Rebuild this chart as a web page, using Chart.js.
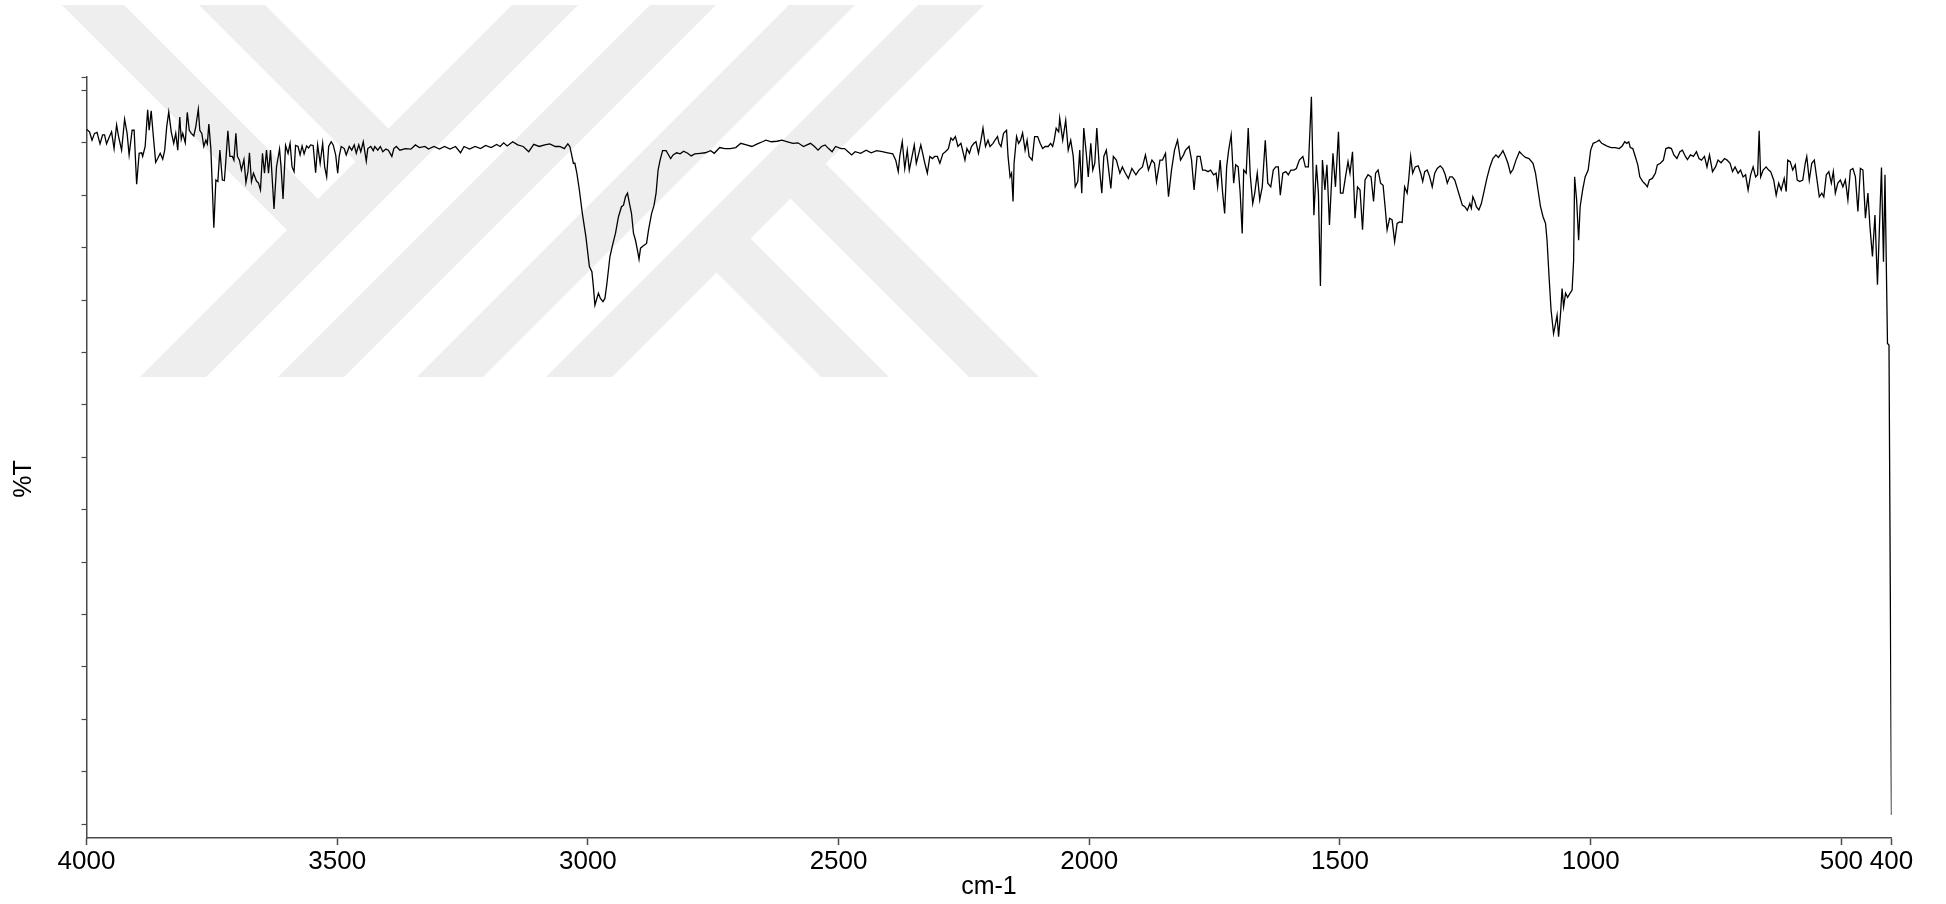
<!DOCTYPE html>
<html>
<head>
<meta charset="utf-8">
<title>IR spectrum</title>
<script src="https://cdn.jsdelivr.net/npm/chart.js@4.4.1/dist/chart.umd.min.js"></script>
<style>
  html, body { margin: 0; padding: 0; background: #ffffff; }
  canvas { display: block; }
</style>
</head>
<body>
<canvas id="ir" width="1946" height="904"></canvas>
<script>
// FT-IR spectrum: wavenumber (cm-1) and transmittance (%T, arbitrary scale)
const wavenumber = [
  4000,3994,3989,3984,3979,3973,3968,3964,3960,3955,3950,3945,3940,3936,3930,3924,3919,3915,3909,3905,
  3900,3895,3890,3888,3883,3878,3875,3871,3866,3862,3858,3853,3848,3844,3840,3836,3831,3826,3822,3818,
  3814,3811,3808,3803,3799,3795,3791,3786,3782,3777,3774,3770,3766,3762,3759,3756,3752,3746,3742,3738,
  3734,3729,3725,3722,3718,3714,3709,3706,3702,3699,3695,3691,3686,3682,3678,3675,3671,3667,3661,3657,
  3653,3649,3645,3641,3637,3633,3626,3621,3615,3612,3608,3603,3598,3594,3590,3586,3583,3578,3574,3570,
  3566,3561,3557,3553,3548,3543,3539,3534,3529,3525,3521,3517,3512,3508,3503,3499,3496,3492,3486,3482,
  3476,3471,3466,3462,3457,3453,3448,3442,3439,3433,3428,3425,3419,3414,3409,3403,3398,3391,3387,3382,
  3375,3364,3353,3344,3336,3325,3318,3307,3296,3286,3275,3264,3254,3247,3236,3225,3214,3204,3193,3182,
  3175,3168,3161,3150,3140,3129,3118,3108,3097,3086,3076,3065,3056,
  3047,3040,3036,3033,3029,3026,3022,3017,3011,3004,2997,2992,2989,2986,2983,2979,2975,2970,2966,2962,
  2956,2950,2945,2939,2933,2929,2925,2921,2917,2913,2909,2905,2900,2898,2895,2890,2883,2879,2873,2868,
  2864,2860,2856,2851,2844,2841,2835,2830,2823,2816,2809,2801,2794,2787,2776,2766,2755,2748,2737,2727,
  2716,2705,2695,2684,2673,2662,2652,2645,2634,2623,2613,2602,2591,2581,2570,2563,2556,2548,2541,2534,
  2527,2520,2513,2506,2495,2488,2481,2474,2467,2456,2445,2435,2424,2413,2402,2392,2386,2381,2378,2373,
  2368,2363,2359,2355,2349,2345,2340,2336,2331,2328,2323,2318,2313,2308,2303,2298,2292,2287,2281,2276,
  2272,2267,2262,2256,2252,2248,2244,2239,2235,2230,2226,2221,2216,2212,2207,2202,2198,2192,2188,2183,
  2180,2176,2171,2165,2162,2158,2155,2152,2150,2145,2141,2137,2133,2128,2124,2120,2114,2109,2103,2098,
  2093,2088,2082,2077,2073,2070,2066,2061,
  2059,2053,2047,2042,2037,2032,2028,2023,2019,2015,2011,2006,2002,1997,1993,1989,1985,1980,1975,1971,
  1966,1962,1957,1952,1946,1939,1934,1928,1922,1915,1907,1901,1894,1888,1882,1875,1870,1866,1859,1854,
  1848,1842,1836,1830,1824,1818,1812,1808,1801,1796,1791,1785,1779,1774,1769,1763,1758,1752,1747,1744,
  1739,1734,1730,1726,1722,1717,1712,1708,1703,1699,1695,1692,1687,1683,1679,1674,1670,1665,1660,1655,
  1649,1644,1638,1633,1628,1623,1619,1614,1608,1603,1598,1592,1587,1581,1574,1569,1563,
  1557,1552,1547,1543,1539,1535,1530,1526,1521,1514,1509,1506,1503,1499,1494,1489,1484,1480,1475,1470,
  1465,1460,1455,1450,1444,1438,1433,1429,1424,1419,1414,1410,1406,1401,1396,1391,1386,1381,1376,1371,
  1366,1363,1359,1355,1350,1344,1339,1335,1331,1326,1321,1316,1311,1306,1300,1295,1290,1286,1281,1276,
  1271,1266,1261,1256,1251,1246,1241,1238,1235,1231,1228,1223,1218,1212,1207,1201,1195,1189,1184,1179,
  1175,1170,1165,1160,1155,1149,1142,1136,1130,1123,1115,1110,1105,1100,1095,1090,1087,1083,1079,1074,
  1070,1067,1064,1060,1057,1054,1050,1046,1041,1037,1034,1032,1028,1024,1021,1016,1011,1005,1000,995,
  988,983,978,972,966,959,951,943,937,932,928,924,921,916,911,906,902,896,891,887,
  883,877,871,867,861,855,850,844,839,834,828,822,817,811,807,801,795,789,784,779,
  773,768,763,757,751,746,740,733,728,722,717,712,706,701,696,691,686,681,676,671,
  667,664,661,656,650,645,641,635,630,625,620,614,610,607,602,597,592,588,583,577,
  572,569,564,559,554,549,544,539,535,530,525,520,516,512,507,502,497,492,487,482,
  477,472,467,462,457,452,447,443,438,433,428,424,420,416,413,408,405,400
];

const transmittance = [
  132.6,132.1,130.5,131.8,132.0,129.8,131.5,131.5,129.8,131.0,132.1,128.9,133.4,131.2,128.6,134.5,131.8,127.7,132.4,132.4,
  122.1,128.0,128.1,127.4,129.3,136.3,132.4,136.1,130.5,126.3,127.0,128.0,126.9,128.6,133.1,135.9,132.1,129.9,131.8,128.6,
  134.9,130.7,131.8,130.0,135.8,132.4,131.8,131.3,133.1,136.4,132.4,131.8,129.3,130.5,129.8,133.6,128.9,113.8,122.9,122.6,
  128.6,122.9,122.8,126.7,132.3,127.4,127.4,126.7,131.8,127.4,126.7,124.8,126.8,122.4,124.5,128.1,122.6,124.2,122.7,122.3,
  121.0,128.0,124.2,128.6,124.2,128.6,117.4,125.4,128.8,125.4,119.3,129.5,128.0,129.9,125.4,124.5,129.5,129.3,127.7,129.4,
  127.9,129.4,129.0,129.6,129.5,124.3,129.6,126.1,129.9,125.4,123.5,129.3,130.2,129.6,127.7,124.2,127.4,129.3,128.9,127.7,
  129.3,128.6,129.6,128.0,129.6,128.3,130.2,126.5,128.9,129.3,128.5,129.3,128.6,129.3,128.3,128.8,128.6,127.4,128.9,129.3,
  128.6,128.9,128.8,129.6,129.1,129.3,128.8,129.3,128.8,129.3,128.8,129.3,128.1,129.3,128.8,129.3,128.9,129.5,129.1,129.7,
  129.3,130.0,129.4,130.2,129.6,129.3,128.3,129.7,129.3,129.6,129.8,129.3,129.3,
  128.9,129.8,129.3,128.0,126.1,126.1,124.2,121.0,116.5,112.1,106.4,105.4,102.5,99.0,100.0,101.3,100.3,99.7,100.3,103.2,
  108.3,110.8,112.7,115.9,117.8,118.1,119.7,120.4,118.4,116.5,112.7,111.4,108.9,107.8,109.9,110.3,110.8,113.4,116.5,118.1,
  120.4,124.8,126.7,128.5,128.5,128.0,127.0,127.7,128.1,127.9,128.4,128.0,127.5,127.9,128.0,128.1,128.5,128.0,129.1,128.9,
  128.9,129.1,129.9,129.6,129.3,129.8,130.2,130.5,130.2,130.3,130.5,130.2,129.9,130.0,129.3,129.6,129.9,129.3,128.6,129.3,
  129.6,128.9,128.3,129.3,128.9,128.9,128.3,127.7,128.3,128.0,128.6,128.1,128.5,128.3,128.1,127.9,126.7,124.5,127.4,130.2,
  125.1,128.6,124.8,126.7,129.6,126.1,128.0,129.6,127.4,126.1,124.2,127.4,127.0,127.4,127.4,126.1,127.9,128.3,128.9,130.9,
  130.5,131.2,129.3,129.9,128.3,126.7,128.9,128.0,129.3,129.9,130.2,128.0,130.5,132.8,129.3,130.5,129.3,129.9,130.5,131.2,
  129.9,129.3,131.8,132.4,127.4,123.5,124.2,118.8,126.1,131.2,129.9,130.5,131.9,128.6,130.5,127.4,126.7,131.2,131.2,129.9,
  128.9,129.3,129.3,129.9,129.3,130.5,132.8,132.1,
  134.7,130.5,134.3,128.6,130.5,127.4,121.6,122.6,128.6,120.4,132.8,128.0,123.5,129.9,124.8,126.1,132.8,125.4,120.4,127.4,
  128.6,125.4,121.3,127.4,126.7,124.2,125.4,124.2,123.2,125.1,123.9,124.8,125.4,127.7,124.8,126.7,126.1,122.6,126.7,126.7,
  128.0,119.7,124.8,128.6,130.5,126.7,127.7,128.6,129.3,126.7,121.0,127.4,127.4,124.8,124.8,124.5,124.8,123.9,124.2,121.6,
  126.7,120.4,116.5,125.4,128.6,131.5,122.3,125.8,125.4,120.4,112.7,124.8,124.2,132.8,123.9,118.4,120.4,124.2,119.1,121.6,
  130.5,122.3,121.6,124.8,125.4,125.4,120.0,124.2,124.5,123.9,124.8,124.8,125.1,126.7,127.4,125.4,125.4,
  138.8,116.2,125.8,120.4,102.7,126.7,121.0,125.8,114.3,128.0,121.6,126.7,132.1,120.4,120.4,123.5,126.4,124.2,128.3,115.6,
  121.6,121.0,113.4,122.9,123.9,123.5,118.8,124.2,124.8,122.3,121.9,117.8,113.4,115.6,115.3,111.1,114.6,114.9,114.8,121.6,
  120.4,122.9,127.4,124.2,125.4,125.6,124.2,122.6,124.5,124.8,123.5,121.6,124.2,125.1,125.6,125.1,123.9,122.3,123.5,123.5,
  122.9,121.3,119.7,118.1,117.8,117.1,118.4,117.5,119.7,118.8,117.8,117.2,118.4,121.0,123.2,125.4,127.0,127.7,127.2,127.9,
  128.5,127.4,126.1,124.2,124.9,126.7,128.3,127.7,127.2,127.0,126.1,124.2,121.0,117.8,115.9,114.6,111.4,104.5,98.1,93.6,
  95.5,97.1,93.0,97.5,102.2,98.7,101.3,100.5,101.3,101.9,107.6,123.5,119.1,111.4,117.8,121.0,123.5,124.8,128.6,129.9,
  130.2,130.5,129.9,129.6,129.3,129.1,129.1,128.9,129.4,130.2,129.9,130.2,129.1,128.9,127.4,125.8,123.5,122.6,122.1,121.6,
  122.9,123.2,124.2,125.8,126.1,126.7,128.9,129.1,128.9,127.7,127.0,128.3,128.6,127.4,126.8,127.7,127.4,128.3,127.0,126.7,
  127.4,125.4,127.7,124.5,125.4,126.7,126.2,127.0,126.7,126.1,124.5,125.4,124.2,124.8,123.5,123.9,121.0,123.9,125.4,123.5,
  123.9,132.3,123.5,124.8,125.4,124.8,124.5,122.9,120.0,122.3,121.0,123.2,120.7,126.7,126.4,124.8,125.8,122.9,122.6,122.9,
  126.1,127.4,122.9,126.1,126.7,123.2,119.7,120.4,119.7,123.9,124.5,122.3,124.5,120.4,122.3,122.9,121.6,122.9,119.1,124.8,
  125.1,123.5,116.9,125.1,124.8,115.6,120.4,114.0,108.3,116.2,102.9,114.0,125.3,107.3,123.9,91.7,91.4,1.7
];

// Axis ticks and limits
const xTickValues = [4000, 3500, 3000, 2500, 2000, 1500, 1000, 500, 400];
const yTickValues = [0, 10, 20, 30, 40, 50, 60, 70, 80, 90, 100, 110, 120, 130, 140];
const xMin = 400, xMax = 4000;
const yMin = -2.67, yMax = 142.56;

const axisColor = '#4a4a4a';
Chart.defaults.font.family = "'Liberation Sans', Arial, sans-serif";
Chart.defaults.color = '#000000';

// Light grey thesis-centre emblem painted behind the plot
const emblemPlugin = {
  id: 'emblem',
  beforeDraw(chart) {
    const ctx = chart.ctx;
    const shapes = [
      [[512,5],[578,5],[206,377],[140,377]],
      [[650,5],[716,5],[344,377],[278,377]],
      [[789,5],[855,5],[483,377],[417,377]],
      [[918,5],[984,5],[612,377],[546,377]],
      [[62,5],[124,5],[322,203],[291,234]],
      [[199,5],[265,5],[392.5,132.5],[359.5,165.5]],
      [[712.5,268.5],[746.5,234.5],[889,377],[821,377]],
      [[786.5,194.5],[821.5,159.5],[1039,377],[969,377]]
    ];
    ctx.save();
    ctx.fillStyle = '#ffffff';
    ctx.fillRect(0, 0, chart.width, chart.height);
    ctx.fillStyle = '#eeeeee';
    for (const poly of shapes) {
      ctx.beginPath();
      poly.forEach(([x, y], i) => (i ? ctx.lineTo(x, y) : ctx.moveTo(x, y)));
      ctx.closePath();
      ctx.fill();
    }
    ctx.restore();
  }
};

// Rotated y-axis caption, set a little below the middle of the axis
const yCaptionPlugin = {
  id: 'yCaption',
  afterDraw(chart) {
    const ctx = chart.ctx;
    const area = chart.chartArea;
    ctx.save();
    ctx.translate(24.5, (area.top + area.bottom) / 2 + 21.5);
    ctx.rotate(-Math.PI / 2);
    ctx.font = "25px 'Liberation Sans', Arial, sans-serif";
    ctx.fillStyle = '#000000';
    ctx.textAlign = 'center';
    ctx.textBaseline = 'middle';
    ctx.fillText('%T', 0, 0);
    ctx.restore();
  }
};

new Chart(document.getElementById('ir'), {
  type: 'line',
  data: {
    datasets: [{
      data: wavenumber.map((w, i) => ({ x: w, y: transmittance[i] })),
      borderColor: '#000000',
      borderWidth: 1.3,
      pointRadius: 0,
      tension: 0,
      fill: false
    }]
  },
  options: {
    responsive: false,
    animation: false,
    events: [],
    layout: { padding: { top: 77, right: 54.5, bottom: 0, left: 0 } },
    plugins: { legend: { display: false }, tooltip: { enabled: false } },
    scales: {
      x: {
        type: 'linear',
        reverse: true,
        min: xMin,
        max: xMax,
        afterBuildTicks: (scale) => { scale.ticks = xTickValues.map(v => ({ value: v })); },
        afterFit: (scale) => { scale.height = 66; },
        border: { display: true, color: axisColor, width: 1.5 },
        grid: { drawOnChartArea: false, drawTicks: true, tickLength: 7, tickColor: axisColor, tickWidth: 1.5 },
        ticks: {
          autoSkip: false, maxRotation: 0, padding: 1.4, color: '#000000',
          font: { size: 26 },
          callback: (v) => String(v)
        },
        title: { display: true, text: 'cm-1', color: '#000000', font: { size: 25 }, padding: { top: 0, bottom: 2 } }
      },
      y: {
        type: 'linear',
        min: yMin,
        max: yMax,
        afterBuildTicks: (scale) => { scale.ticks = yTickValues.concat([yMax]).map(v => ({ value: v })); },
        afterFit: (scale) => { scale.width = 86.5; },
        border: { display: true, color: axisColor, width: 1.5 },
        grid: { drawOnChartArea: false, drawTicks: true, tickLength: 5, tickColor: axisColor, tickWidth: 1.2 },
        ticks: { display: false }
      }
    }
  },
  plugins: [emblemPlugin, yCaptionPlugin]
});
</script>
</body>
</html>
